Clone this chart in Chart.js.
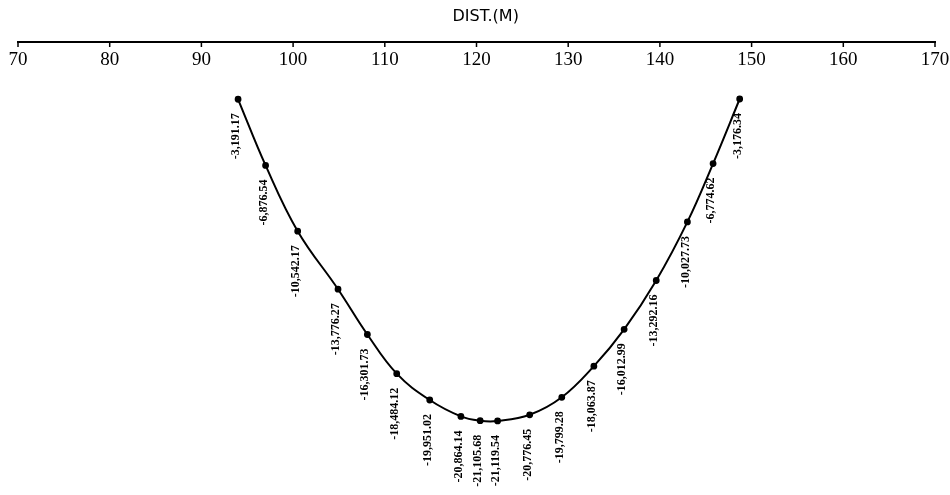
<!DOCTYPE html>
<html>
<head>
<meta charset="utf-8">
<script src="https://cdn.jsdelivr.net/npm/chart.js@4.4.0/dist/chart.umd.min.js"></script>
<style>
  body { margin: 0; background: #fff; }
  #wrap { width: 950px; height: 495px; }
</style>
</head>
<body>
<div id="wrap"><canvas id="dist_chart"></canvas></div>
<script>
const dist = [94.0, 97.0, 100.5, 104.9, 108.1, 111.3, 114.9, 118.3, 120.4, 122.3, 125.8, 129.3, 132.8, 136.1, 139.6, 143.0, 145.8, 148.7]
const force = [-3191.17, -6876.54, -10542.17, -13776.27, -16301.73, -18484.12, -19951.02, -20864.14, -21105.68, -21119.54, -20776.45, -19799.28, -18063.87, -16012.99, -13292.16, -10027.73, -6774.62, -3176.34]
const xTicks = [70, 80, 90, 100, 110, 120, 130, 140, 150, 160, 170]
const xTitle = "DIST.(M)"

function fmt(v){
    return v.toLocaleString('en-US', {minimumFractionDigits: 2, maximumFractionDigits: 2})
}

/**
 * labels under the axis line + rotated value labels on the points
 */
const drawLabels = {
    id: 'drawLabels',
    afterDraw(chart){
        const ctx = chart.ctx
        const xs = chart.scales.x
        const top = chart.chartArea.top
        ctx.save()
        ctx.fillStyle = '#000'
        ctx.strokeStyle = '#000'
        ctx.lineWidth = 1.5

        // tick marks hang below the line, labels under them
        ctx.font = '19px "Liberation Serif"'
        ctx.textAlign = 'center'
        ctx.textBaseline = 'middle'
        xs.ticks.forEach(t => {
            const px = xs.getPixelForValue(t.value)
            ctx.beginPath()
            ctx.moveTo(px, top)
            ctx.lineTo(px, top + 5)
            ctx.stroke()
            ctx.fillText(t.value, px, top + 18)
        })

        // axis title
        ctx.font = '16px "DejaVu Sans"'
        ctx.fillText(xTitle, xs.getPixelForValue(121), top - 25)

        // point values, read from bottom to top
        ctx.font = 'bold 12px "Liberation Serif"'
        ctx.textAlign = 'right'
        const meta = chart.getDatasetMeta(0)
        meta.data.forEach((pt, i) => {
            ctx.save()
            ctx.translate(pt.x - 2, pt.y + 14)
            ctx.rotate(-Math.PI / 2)
            ctx.fillText(fmt(force[i]), 0, 0)
            ctx.restore()
        })
        ctx.restore()
    }
}

const distChart = new Chart(document.getElementById('dist_chart').getContext('2d'), {
    type: 'line',
    data: {
        datasets: [{
            label: 'Force',
            data: dist.map((d, i) => ({x: d, y: force[i]})),
            borderColor: '#000',
            backgroundColor: '#000',
            borderWidth: 2,
            pointRadius: 2.4,
            pointHoverRadius: 2.4,
            fill: false,
            tension: 0.4
        }]
    },
    options: {
        responsive: true,
        maintainAspectRatio: false,
        animation: false,
        layout: { padding: {left: 18, right: 15, top: 42, bottom: 1} },
        plugins: {
            legend: { display: false },
            tooltip: { enabled: false }
        },
        scales: {
            x: {
                type: 'linear',
                position: 'top',
                min: 70,
                max: 170,
                afterBuildTicks: (scale) => { scale.ticks = xTicks.map(v => ({value: v})) },
                ticks: { display: false },
                grid: { display: false, drawTicks: false },
                border: { display: true, color: '#000', width: 2 }
            },
            y: {
                display: false,
                min: -25000,
                max: 0
            }
        }
    },
    plugins: [drawLabels]
})
</script>
</body>
</html>
